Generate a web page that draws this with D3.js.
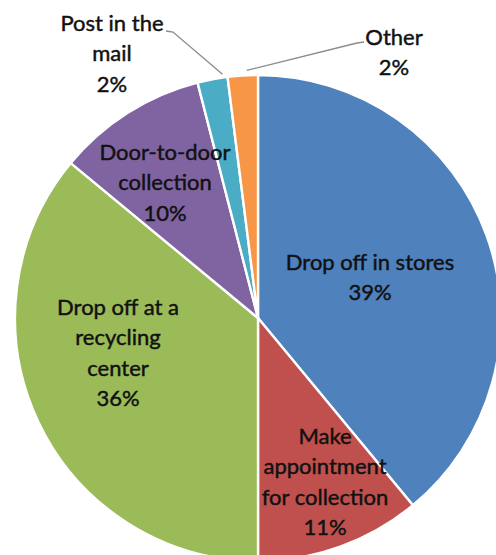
<!DOCTYPE html>
<html>
<head>
<meta charset="utf-8">
<script src="https://cdn.jsdelivr.net/npm/d3@7"></script>
<style>
  html, body { margin: 0; padding: 0; background: #fff; }
  svg { display: block; }
  text { font-family: Lato, "Open Sans", sans-serif; fill: #111; stroke: #111; stroke-width: 0.45px; }
</style>
</head>
<body>
<svg id="chart" width="496" height="555"></svg>
<script>
// Ways of returning used items (share of respondents, %)
const categories = [
  "Drop off in stores",
  "Make appointment for collection",
  "Drop off at a recycling center",
  "Door-to-door collection",
  "Post in the mail",
  "Other"
];
const values = [39, 11, 36, 10, 2, 2];
const colors = ["#4F81BD", "#C0504D", "#9BBB59", "#8064A2", "#4BACC6", "#F79646"];
// Label text, split into the lines shown on the chart
const labelLines = [
  ["Drop off in stores"],
  ["Make", "appointment", "for collection"],
  ["Drop off at a", "recycling", "center"],
  ["Door-to-door", "collection"],
  ["Post in the", "mail"],
  ["Other"]
];

// Layout
const W = 496, H = 555;
const cx = 258, cy = 318, R = 243;
const lineH = 30.5;
const fontSize = 22;
// Centre of each label's first line, relative to the pie centre
const labelAnchor = [
  [112, -56],
  [67, 118],
  [-140, -11],
  [-93, -166],
  [-146, -295],
  [136, -281]
];
// Leader lines: label-side start and elbow, relative to the pie centre
const leaders = {
  4: [[-92, -287], [-85, -286]],
  5: [[106, -276], [99, -275]]
};

const svg = d3.select("#chart");
const g = svg.append("g").attr("transform", `translate(${cx},${cy})`);

const pie = d3.pie().sort(null).value(d => d.value);
const arcs = pie(values.map((v, i) => ({ value: v, i })));
const arc = d3.arc().innerRadius(0).outerRadius(R);
const edge = d3.arc().innerRadius(R).outerRadius(R);

g.selectAll("path.slice")
  .data(arcs)
  .join("path")
  .attr("class", "slice")
  .attr("d", arc)
  .attr("fill", d => colors[d.data.i])
  .attr("stroke", "#fff")
  .attr("stroke-width", 2.4)
  .attr("stroke-linejoin", "round");

// Leader lines for the two small slices
arcs.forEach(d => {
  const pts = leaders[d.data.i];
  if (!pts) return;
  const end = edge.centroid(d);
  g.append("path")
    .attr("d", d3.line()([...pts, [end[0] + (d.data.i === 4 ? 10 : 4), end[1] - 5]]))
    .attr("fill", "none")
    .attr("stroke", "#8a8a8a")
    .attr("stroke-width", 1.3);
});

// Data labels: category name lines followed by the percentage
arcs.forEach(d => {
  const i = d.data.i;
  const lines = [...labelLines[i], `${values[i]}%`];
  const [lx, ly] = labelAnchor[i];
  const t = g.append("text")
    .attr("text-anchor", "middle")
    .style("font-size", fontSize + "px");
  lines.forEach((s, k) => {
    t.append("tspan")
      .attr("x", lx)
      .attr("y", ly + k * lineH)
      .attr("dy", "0.36em")
      .text(s);
  });
});
</script>
</body>
</html>
